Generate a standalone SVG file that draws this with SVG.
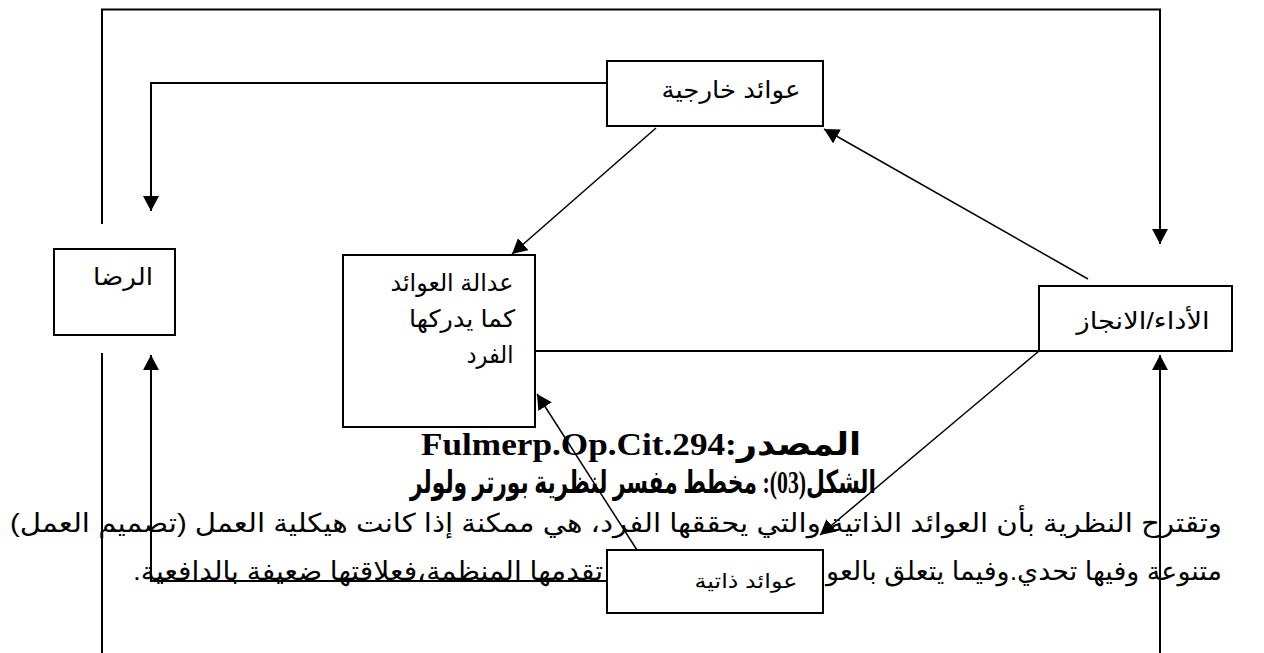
<svg xmlns="http://www.w3.org/2000/svg" width="1264" height="653" viewBox="0 0 1264 653">
  <style>
    .box { fill: #ffffff; stroke: #000000; stroke-width: 2; }
    .wire { fill: none; stroke: #000000; stroke-width: 2; }
    .diag { fill: none; stroke: #000000; stroke-width: 1.5; }
    .lbl { font-family: "Liberation Sans", "DejaVu Sans", sans-serif; font-size: 24px; fill: #000000; direction: rtl; text-anchor: middle; }
    .small { font-size: 20px; }
    .body { font-family: "Liberation Sans", "DejaVu Sans", sans-serif; font-size: 26px; fill: #000000; direction: rtl; text-anchor: middle; }
    .title { font-family: "Liberation Serif", "DejaVu Sans", serif; font-size: 32px; font-weight: bold; fill: #000000; direction: rtl; text-anchor: middle; }
  </style>
  <defs>
    <marker id="head" markerUnits="userSpaceOnUse" markerWidth="16" markerHeight="16" viewBox="0 0 16 16" refX="15" refY="8" orient="auto">
      <path d="M0,0 L15,8 L0,16 Z" fill="#000000"/>
    </marker>
  </defs>

  <rect width="1264" height="653" fill="#ffffff"/>

  <!-- caption and paragraph -->
  <g id="caption">
    <text class="title" x="641" y="455" textLength="440" lengthAdjust="spacingAndGlyphs">المصدر:Fulmerp.Op.Cit.294</text>
    <text class="title" x="643" y="493" textLength="466" lengthAdjust="spacingAndGlyphs">الشكل(03): مخطط مفسر لنظرية بورتر ولولر</text>
    <text class="body" x="616" y="532" textLength="1212" lengthAdjust="spacingAndGlyphs">وتقترح النظرية بأن العوائد الذاتية والتي يحققها الفرد، هي ممكنة إذا كانت هيكلية العمل (تصميم العمل)</text>
    <text class="body" x="1024" y="580" textLength="396" lengthAdjust="spacingAndGlyphs">متنوعة وفيها تحدي.وفيما يتعلق بالعو</text>
    <text class="body" x="368" y="580" textLength="470" lengthAdjust="spacingAndGlyphs">تقدمها المنظمة،فعلاقتها ضعيفة بالدافعية.</text>
  </g>

  <!-- connectors -->
  <g id="connectors">
    <polyline class="wire" points="102,224 102,9.5 1160,9.5 1160,244" marker-end="url(#head)"/>
    <polyline class="wire" points="607,83 151,83 151,211" marker-end="url(#head)"/>
    <line class="diag" x1="656" y1="128" x2="512" y2="254" marker-end="url(#head)"/>
    <line class="diag" x1="1088" y1="279" x2="824" y2="129" marker-end="url(#head)"/>
    <line class="wire" x1="535" y1="351" x2="1039" y2="351"/>
    <line class="diag" x1="1039" y1="351" x2="820" y2="535" marker-end="url(#head)"/>
    <line class="diag" x1="637" y1="550" x2="537" y2="394" marker-end="url(#head)"/>
    <polyline class="wire" points="607,581 151,581 151,355" marker-end="url(#head)"/>
    <line class="wire" x1="102" y1="353" x2="102" y2="653"/>
    <line class="wire" x1="1160" y1="653" x2="1160" y2="355" marker-end="url(#head)"/>
  </g>

  <!-- external rewards -->
  <g id="node-external-rewards">
    <rect class="box" x="607" y="61" width="216" height="65"/>
    <text class="lbl" x="731" y="98" textLength="139" lengthAdjust="spacingAndGlyphs">عوائد خارجية</text>
  </g>

  <!-- satisfaction -->
  <g id="node-satisfaction">
    <rect class="box" x="54" y="249" width="121" height="86"/>
    <text class="lbl" x="123" y="285" textLength="60" lengthAdjust="spacingAndGlyphs">الرضا</text>
  </g>

  <!-- perceived equity of rewards -->
  <g id="node-equity">
    <rect class="box" x="343" y="255" width="192" height="172"/>
    <text class="lbl" x="452" y="291" textLength="123" lengthAdjust="spacingAndGlyphs">عدالة العوائد</text>
    <text class="lbl" x="462" y="327" textLength="106" lengthAdjust="spacingAndGlyphs">كما يدركها</text>
    <text class="lbl" x="490" y="363" textLength="47" lengthAdjust="spacingAndGlyphs">الفرد</text>
  </g>

  <!-- performance -->
  <g id="node-performance">
    <rect class="box" x="1039" y="286" width="193" height="65"/>
    <text class="lbl" x="1143" y="329" textLength="133" lengthAdjust="spacingAndGlyphs">الأداء/الانجاز</text>
  </g>

  <!-- intrinsic rewards -->
  <g id="node-intrinsic-rewards">
    <rect class="box" x="607" y="550" width="216" height="63"/>
    <text class="lbl small" x="746" y="588" textLength="103" lengthAdjust="spacingAndGlyphs">عوائد ذاتية</text>
  </g>
</svg>
